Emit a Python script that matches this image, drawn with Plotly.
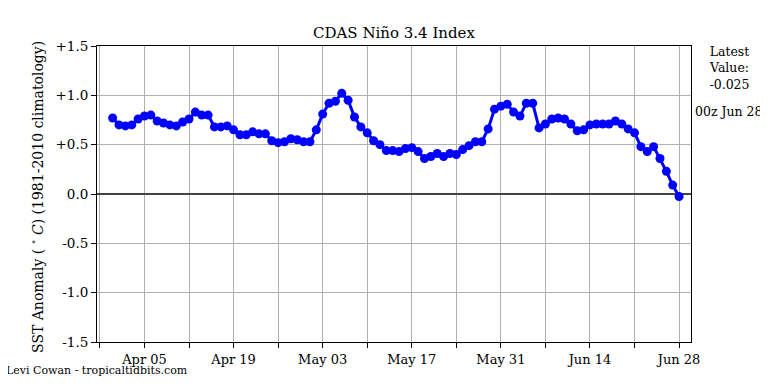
import pandas as pd
import plotly.graph_objects as go

# ---- data ----
start_date = "2024-03-31"
anomaly = [
    0.77, 0.70, 0.69, 0.70, 0.76, 0.79, 0.80, 0.74, 0.72, 0.70,   # Mar31-Apr09
    0.69, 0.73, 0.76, 0.83, 0.80, 0.80, 0.68, 0.68, 0.69, 0.65,   # Apr10-Apr19
    0.60, 0.60, 0.63, 0.61, 0.61, 0.54, 0.52, 0.53, 0.56, 0.55,   # Apr20-Apr29
    0.53, 0.53, 0.65, 0.81, 0.92, 0.94, 1.02, 0.95, 0.78, 0.68,   # Apr30-May09
    0.62, 0.54, 0.50, 0.44, 0.44, 0.43, 0.46, 0.47, 0.43, 0.36,   # May10-May19
    0.38, 0.41, 0.38, 0.41, 0.40, 0.45, 0.49, 0.53, 0.53, 0.66,   # May20-May29
    0.86, 0.89, 0.91, 0.83, 0.79, 0.92, 0.92, 0.67, 0.71, 0.76,   # May30-Jun08
    0.77, 0.76, 0.71, 0.64, 0.65, 0.70, 0.71, 0.71, 0.71, 0.74,   # Jun09-Jun18
    0.71, 0.66, 0.62, 0.48, 0.43, 0.48, 0.36, 0.23, 0.09, -0.025, # Jun19-Jun28
]
dates = pd.date_range(start_date, periods=len(anomaly), freq="D")

x_tick_dates = pd.date_range("2024-04-05", "2024-06-28", freq="14D")
x_tick_labels = ["Apr 05", "Apr 19", "May 03", "May 17", "May 31", "Jun 14", "Jun 28"]
y_tick_vals = [-1.5, -1.0, -0.5, 0.0, 0.5, 1.0, 1.5]
y_tick_labels = ["-1.5", "-1.0", "-0.5", "0.0", "+0.5", "+1.0", "+1.5"]

FONT = "DejaVu Serif"
OFF = 8  # page body margin offset

fig = go.Figure()
fig.add_trace(go.Scatter(
    x=dates, y=anomaly, mode="lines+markers",
    line=dict(color="#0000ff", width=3),
    marker=dict(color="#0000ff", size=9),
    showlegend=False,
))

fig.update_layout(
    width=768, height=384,
    margin=dict(l=97 - OFF, r=768 - 691 + OFF, t=46 - OFF, b=384 - 342 + OFF),
    paper_bgcolor="white", plot_bgcolor="white",
    font=dict(family=FONT, color="black", size=13),
    title=dict(text="CDAS Niño 3.4 Index", x=((97 + 691) / 2 - OFF) / 768, xanchor="center",
               y=1 - (33 - OFF) / 384, yanchor="middle", font=dict(size=15, family=FONT)),
)

fig.update_xaxes(
    range=["2024-03-28 13:00", "2024-06-29 21:00"],
    tickvals=x_tick_dates, ticktext=x_tick_labels,
    ticks="outside", ticklen=5, tickcolor="black",
    showgrid=True, gridcolor="#b0b0b0", gridwidth=1,
    minor=dict(tick0="2024-03-29", dtick=7 * 86400000, ticks="outside", ticklen=5,
               tickcolor="black", showgrid=True, gridcolor="#b0b0b0", gridwidth=1),
    showline=True, linecolor="black", linewidth=1, mirror=True,
    tickfont=dict(size=13, family=FONT),
)
fig.update_yaxes(
    range=[-1.5, 1.5],
    tickvals=y_tick_vals, ticktext=y_tick_labels,
    ticks="outside", ticklen=5, tickcolor="black",
    showgrid=True, gridcolor="#b0b0b0", gridwidth=1,
    zeroline=True, zerolinecolor="#444444", zerolinewidth=1.5,
    showline=True, linecolor="black", linewidth=1, mirror=True,
    tickfont=dict(size=13.5, family=FONT),
)

fig.add_annotation(
    text="SST Anomaly ( <sup>∘</sup> <i>C</i>) (1981-2010 climatology)",
    xref="paper", yref="paper", x=(37 - 97) / 594, y=0.49,
    xanchor="center", yanchor="middle", textangle=-90, showarrow=False,
    font=dict(size=14, family=FONT),
)
fig.add_annotation(
    text="Latest<br>Value:<br>-0.025",
    xref="paper", yref="paper", x=(729 - 97) / 594, y=1.0 + 4 / 296,
    xanchor="center", yanchor="top", showarrow=False,
    font=dict(size=12.5, family=FONT),
)
fig.add_annotation(
    text="00z Jun 28",
    xref="paper", yref="paper", x=(729 - 97) / 594, y=(342 - 111) / 296,
    xanchor="center", yanchor="middle", showarrow=False,
    font=dict(size=12.5, family=FONT),
)
fig.add_annotation(
    text="Levi Cowan - tropicaltidbits.com",
    xref="paper", yref="paper", x=(4 - 97) / 594, y=(342 - 370) / 296,
    xanchor="left", yanchor="middle", showarrow=False,
    font=dict(size=11, family=FONT),
)

fig.write_html("out.html")
